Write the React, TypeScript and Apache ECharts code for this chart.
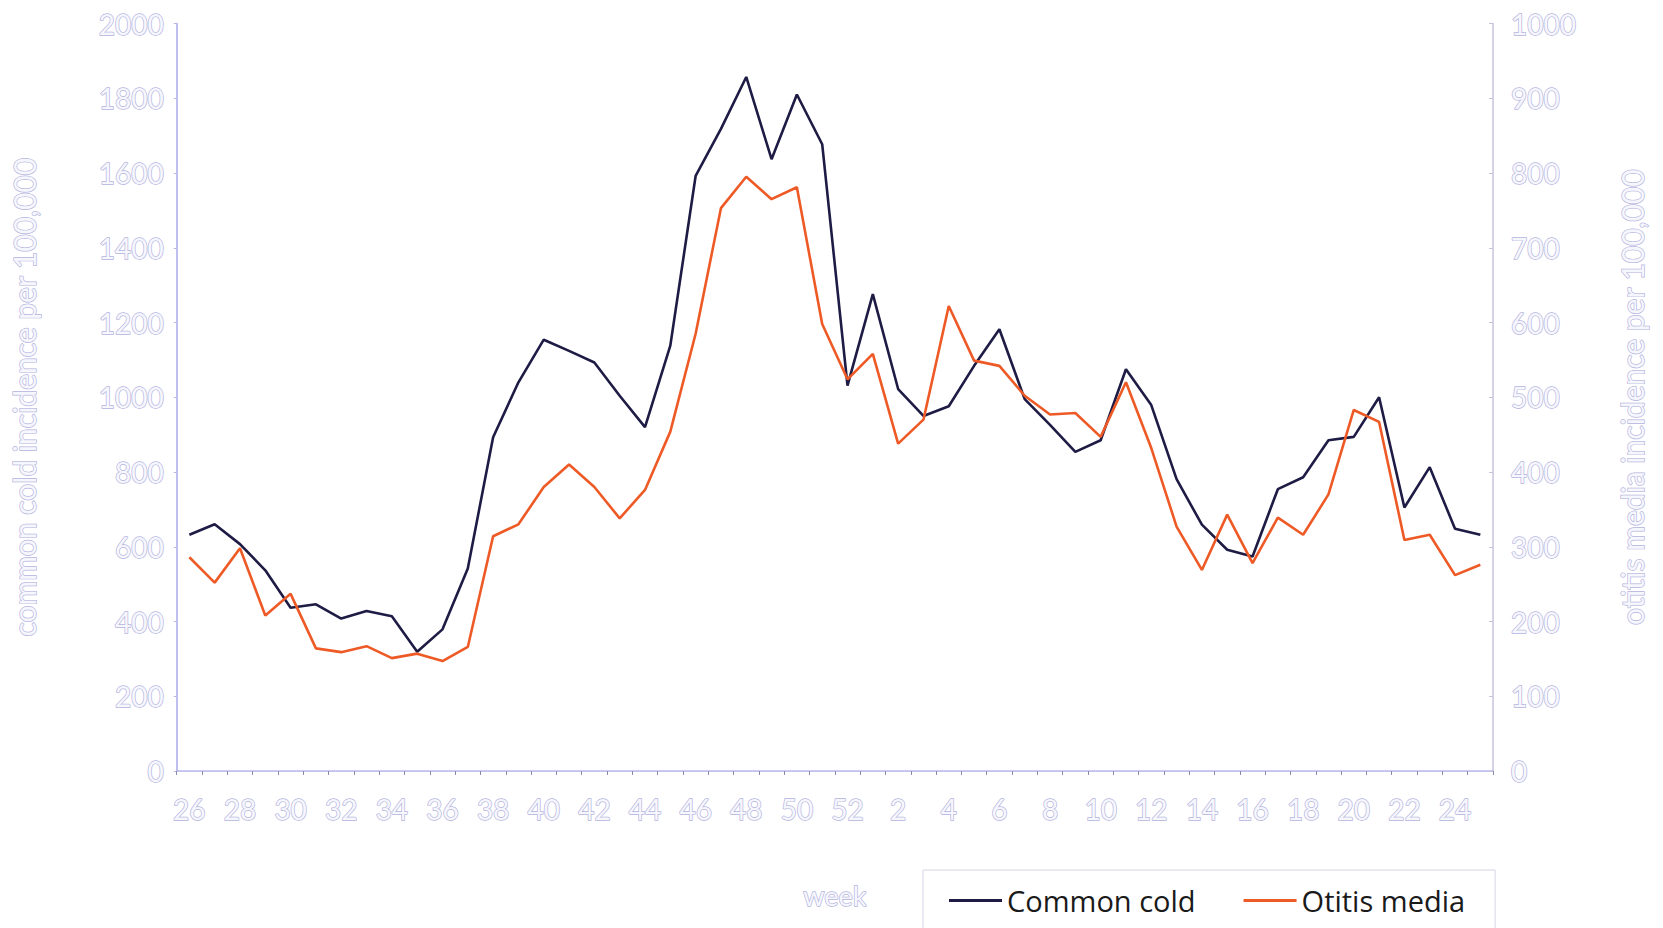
import React, { useEffect, useRef } from "react";
import * as echarts from "echarts";

const weeks: string[] = [
  "26", "27", "28", "29", "30", "31", "32", "33", "34", "35", "36", "37", "38", "39",
  "40", "41", "42", "43", "44", "45", "46", "47", "48", "49", "50", "51", "52",
  "1", "2", "3", "4", "5", "6", "7", "8", "9", "10", "11", "12", "13", "14", "15",
  "16", "17", "18", "19", "20", "21", "22", "23", "24", "25",
];

const commonCold: number[] = [
  632, 660, 607, 537, 437, 446, 408, 428, 414, 319, 379, 542, 893, 1040,
  1154, 1124, 1093, 1004, 920, 1138, 1592, 1718, 1857, 1637, 1810, 1677, 1031,
  1276, 1022, 950, 976, 1084, 1182, 995, 926, 854, 885, 1075, 979, 781, 659, 592,
  574, 754, 786, 885, 894, 1000, 705, 813, 648, 632,
];

const otitisMedia: number[] = [
  286, 252, 298, 208, 237, 164, 159, 167, 151, 157, 147, 166, 314, 330,
  380, 410, 380, 338, 376, 454, 585, 753, 795, 765, 781, 598, 524,
  558, 438, 470, 622, 549, 542, 502, 477, 479, 447, 520, 432, 327, 269, 343,
  278, 339, 316, 370, 483, 467, 309, 316, 262, 276,
];

const leftTitle = "common cold incidence per 100,000";
const rightTitle = "otitis media incidence per 100,000";
const xTitle = "week";
const seriesNames = ["Common cold", "Otitis media"];

const outlineText = {
  color: "#f6f6fd",
  textBorderColor: "#b4b4de",
  textBorderWidth: 1.4,
  fontFamily: "Lato",
  fontSize: 28,
};

const plain = (v: number) => String(v);

export default function App() {
  const ref = useRef<HTMLDivElement>(null);

  useEffect(() => {
    document.body.style.margin = "0";
    if (!ref.current) return;
    const chart = echarts.init(ref.current, undefined, { renderer: "svg" });
    chart.setOption({
      animation: false,
      backgroundColor: "#ffffff",
      grid: { left: 168, right: 170, top: 23.5, bottom: 157, containLabel: false },
      legend: {
        data: seriesNames,
        left: 923,
        top: 870,
        padding: [16, 30, 40, 26],
        itemGap: 48,
        itemWidth: 53,
        itemHeight: 3,
        icon: "rect",
        borderColor: "#d4d4e6",
        borderWidth: 1,
        textStyle: { color: "#1a1a1a", fontFamily: "Open Sans", fontSize: 29 },
      },
      xAxis: [
        {
          type: "category",
          data: weeks,
          boundaryGap: true,
          name: xTitle,
          nameLocation: "middle",
          nameGap: 111,
          nameTextStyle: { ...outlineText, fontSize: 27 },
          axisLine: { show: true, lineStyle: { color: "#e8e8f2", width: 1 } },
          axisTick: {
            show: true,
            interval: 0,
            alignWithLabel: false,
            length: 4,
            lineStyle: { color: "#8c8cae", width: 1 },
          },
          axisLabel: { ...outlineText, interval: 1, margin: 24 },
          splitLine: { show: false },
        },
        {
          type: "category",
          data: weeks,
          position: "top",
          axisLine: { show: true, lineStyle: { color: "#b8b8ee", width: 1.5 } },
          axisTick: { show: false },
          axisLabel: { show: false },
          splitLine: { show: false },
        },
      ],
      yAxis: [
        {
          type: "value",
          min: 0,
          max: 2000,
          interval: 200,
          position: "left",
          name: leftTitle,
          nameLocation: "middle",
          nameRotate: 90,
          nameGap: 138,
          nameTextStyle: { ...outlineText, fontSize: 30 },
          axisLine: { show: true, lineStyle: { color: "#a8a8ea", width: 1.5 } },
          axisTick: { show: true, length: 3, lineStyle: { color: "#b8b8e6" } },
          axisLabel: { ...outlineText, margin: 13, formatter: plain },
          splitLine: { show: false },
        },
        {
          type: "value",
          min: 0,
          max: 1000,
          interval: 100,
          position: "right",
          name: rightTitle,
          nameLocation: "middle",
          nameRotate: 90,
          nameGap: 124,
          nameTextStyle: { ...outlineText, fontSize: 30 },
          axisLine: { show: true, lineStyle: { color: "#c4c4dc", width: 1.5 } },
          axisTick: { show: true, inside: true, length: 4, lineStyle: { color: "#c4c4dc" } },
          axisLabel: { ...outlineText, margin: 18, formatter: plain },
          splitLine: { show: false },
        },
      ],
      series: [
        {
          name: seriesNames[0],
          type: "line",
          data: commonCold,
          yAxisIndex: 0,
          symbol: "none",
          lineStyle: { color: "#1e1b45", width: 2.6 },
          itemStyle: { color: "#1e1b45" },
        },
        {
          name: seriesNames[1],
          type: "line",
          data: otitisMedia,
          yAxisIndex: 1,
          symbol: "none",
          lineStyle: { color: "#ee5a26", width: 2.6 },
          itemStyle: { color: "#ee5a26" },
        },
      ],
    });
    return () => chart.dispose();
  }, []);

  return (
    <div
      ref={ref}
      style={{ position: "fixed", left: 0, top: 0, width: 1663, height: 928 }}
    />
  );
}
